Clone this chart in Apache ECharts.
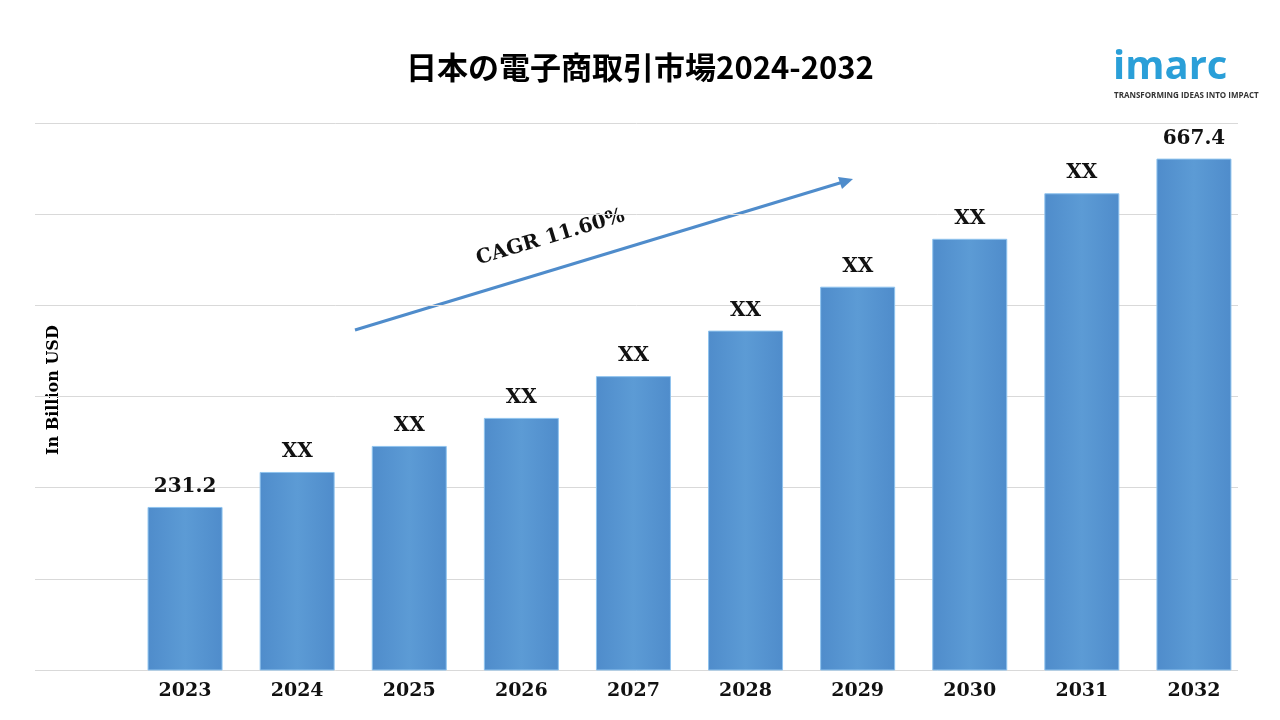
<!DOCTYPE html>
<html><head><meta charset="utf-8">
<script src="https://cdn.jsdelivr.net/npm/echarts@6/dist/echarts.min.js"></script>
<style>html,body{margin:0;background:#fff}#c{width:1280px;height:720px}</style>
</head><body><div id="c"></div>
<script>
const years = ["2023","2024","2025","2026","2027","2028","2029","2030","2031","2032"];
const values = [231.2, 275, 307.6, 342.7, 395, 452, 507, 567, 624, 667.4];
const labels = ["231.2","XX","XX","XX","XX","XX","XX","XX","XX","667.4"];

const chart = echarts.init(document.getElementById("c"));
const serif = "'DejaVu Serif', 'Liberation Serif', serif";

chart.setOption({
  backgroundColor: "#fff",
  grid: [
    { left: 35, right: 42, top: 123, bottom: 50 },
    { left: 129, right: 30, top: 123, bottom: 50 }
  ],
  xAxis: [
    { gridIndex: 0, type: "value", show: false, min: 0, max: 1 },
    {
      gridIndex: 1, type: "category", data: years,
      axisLine: { show: false }, axisTick: { show: false },
      axisLabel: { fontFamily: serif, fontWeight: "bold", fontSize: 19, color: "#111", margin: 12 }
    }
  ],
  yAxis: [
    {
      gridIndex: 0, type: "value", min: 0, max: 6, interval: 1,
      axisLabel: { show: false }, axisLine: { show: false }, axisTick: { show: false },
      splitLine: { lineStyle: { color: "#d9d9d9", width: 1 } }
    },
    {
      gridIndex: 1, type: "value", min: 27, max: 712,
      axisLabel: { show: false }, axisLine: { show: false }, axisTick: { show: false },
      splitLine: { show: false }
    }
  ],
  series: [{
    type: "bar", xAxisIndex: 1, yAxisIndex: 1,
    data: values, barWidth: 75,
    itemStyle: {
      color: new echarts.graphic.LinearGradient(0, 0, 1, 0, [
        { offset: 0, color: "#4f8ccb" },
        { offset: 0.5, color: "#5c9bd5" },
        { offset: 1, color: "#4f8ccb" }
      ]),
      borderColor: "#8fc3ee", borderWidth: 1
    },
    label: {
      show: true, position: "top", distance: 10,
      formatter: p => labels[p.dataIndex],
      fontFamily: serif, fontWeight: "bold", fontSize: 20, color: "#111"
    }
  }],
  graphic: [
    { type: "text", left: "center", top: 52, style: {
      text: "日本の電子商取引市場2024-2032", font: "bold 31px 'Noto Sans CJK JP', " + serif, fill: "#000" } },
    { type: "text", x: 46, y: 455, rotation: Math.PI / 2, style: {
      text: "In Billion USD", font: "bold 16px " + serif, fill: "#000" } },
    { type: "line", shape: { x1: 355, y1: 330, x2: 843, y2: 182 },
      style: { stroke: "#4f8ccb", lineWidth: 3 } },
    { type: "polygon", shape: { points: [[853, 179], [838, 177], [842, 189]] },
      style: { fill: "#4f8ccb" } },
    { type: "text", x: 474, y: 250, rotation: 0.29, style: {
      text: "CAGR 11.60%", font: "bold 20px " + serif, fill: "#111" } },
    { type: "text", x: 1113, y: 48, style: {
      text: "imarc", font: "bold 40px 'Open Sans', sans-serif", fill: "#2a9fd8" } },
    { type: "text", x: 1114, y: 92, style: {
      text: "TRANSFORMING IDEAS INTO IMPACT", font: "bold 8px 'Open Sans', sans-serif", fill: "#333" } }
  ]
});
</script>
</body></html>
